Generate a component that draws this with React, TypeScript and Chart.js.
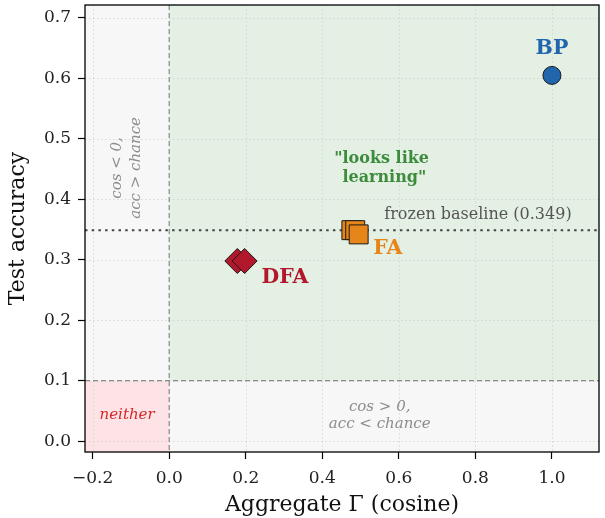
import React, { useEffect, useRef } from "react";
import { Chart, registerables } from "chart.js";

Chart.register(...registerables);

// ---- data ----
const BP_POINTS = [{ x: 1.0, y: 0.605 }];
const FA_POINTS = [
  { x: 0.476, y: 0.349 },
  { x: 0.486, y: 0.349 },
  { x: 0.495, y: 0.342 },
];
const DFA_POINTS = [
  { x: 0.178, y: 0.298 },
  { x: 0.197, y: 0.298 },
];
const X_TICKS = [-0.2, 0.0, 0.2, 0.4, 0.6, 0.8, 1.0];
const Y_TICKS = [0.0, 0.1, 0.2, 0.3, 0.4, 0.5, 0.6, 0.7];
const X_RANGE = [-0.22, 1.123];
const Y_RANGE = [-0.018, 0.7215];
const FROZEN_BASELINE = 0.349;
const CHANCE = 0.1;
const COS_ZERO = 0.0;

const SERIF = "'DejaVu Serif', serif";

const regionsPlugin = {
  id: "regions",
  beforeDatasetsDraw(chart: any) {
    const { ctx, chartArea: a, scales } = chart;
    const xs = scales.x, ys = scales.y;
    const x0 = xs.getPixelForValue(COS_ZERO);
    const y1 = ys.getPixelForValue(CHANCE);
    const yb = ys.getPixelForValue(FROZEN_BASELINE);
    ctx.save();
    ctx.fillStyle = "#f7f7f7";
    ctx.fillRect(a.left, a.top, a.right - a.left, a.bottom - a.top);
    ctx.fillStyle = "#e3f0e3";
    ctx.fillRect(x0, a.top, a.right - x0, y1 - a.top);
    ctx.fillStyle = "#fde3e5";
    ctx.fillRect(a.left, y1, x0 - a.left, a.bottom - y1);
    ctx.strokeStyle = "#cfcfcf";
    ctx.lineWidth = 0.8;
    ctx.setLineDash([1.5, 2.5]);
    for (const v of X_TICKS) {
      const p = Math.round(xs.getPixelForValue(v)) + 0.5;
      ctx.beginPath(); ctx.moveTo(p, a.top); ctx.lineTo(p, a.bottom); ctx.stroke();
    }
    for (const v of Y_TICKS) {
      const p = Math.round(ys.getPixelForValue(v)) + 0.5;
      ctx.beginPath(); ctx.moveTo(a.left, p); ctx.lineTo(a.right, p); ctx.stroke();
    }
    ctx.strokeStyle = "#8a8a8a";
    ctx.lineWidth = 1.2;
    ctx.setLineDash([5, 3]);
    ctx.beginPath(); ctx.moveTo(x0, a.top); ctx.lineTo(x0, a.bottom); ctx.stroke();
    ctx.beginPath(); ctx.moveTo(a.left, y1); ctx.lineTo(a.right, y1); ctx.stroke();
    ctx.strokeStyle = "#444444";
    ctx.lineWidth = 2;
    ctx.setLineDash([2.5, 4.2]);
    ctx.beginPath(); ctx.moveTo(a.left, yb); ctx.lineTo(a.right, yb); ctx.stroke();
    ctx.restore();
  },
  afterDatasetsDraw(chart: any) {
    const { ctx, chartArea: a, scales } = chart;
    const xs = scales.x, ys = scales.y;
    const px = (v: number) => xs.getPixelForValue(v);
    const py = (v: number) => ys.getPixelForValue(v);
    ctx.save();
    ctx.textBaseline = "middle";
    const text = (t: string, x: number, y: number, font: string, color: string, align: CanvasTextAlign) => {
      ctx.font = font; ctx.fillStyle = color; ctx.textAlign = align; ctx.fillText(t, x, y);
    };
    text("BP", px(1.0), py(0.649), `bold 20.5px ${SERIF}`, "#2166ac", "center");
    text("FA", px(0.533), py(0.318), `bold 20.5px ${SERIF}`, "#e6861a", "left");
    text("DFA", px(0.241), py(0.27), `bold 20.5px ${SERIF}`, "#b2182b", "left");
    text("\"looks like", px(0.555), py(0.467), `bold 16px ${SERIF}`, "#3d8b3d", "center");
    text(" learning\"", px(0.555), py(0.436), `bold 16px ${SERIF}`, "#3d8b3d", "center");
    text("frozen baseline (0.349)", px(0.562), py(0.375), `16px ${SERIF}`, "#555555", "left");
    text("neither", px(-0.11), py(0.043), `italic 15px ${SERIF}`, "#d62728", "center");
    text("cos > 0,", px(0.55), py(0.056), `italic 15px ${SERIF}`, "#8c8c8c", "center");
    text("acc < chance", px(0.55), py(0.028), `italic 15px ${SERIF}`, "#8c8c8c", "center");
    ctx.save();
    ctx.translate(px(-0.11), py(0.452));
    ctx.rotate(-Math.PI / 2);
    text("cos < 0,", 0, -9.5, `italic 15px ${SERIF}`, "#8c8c8c", "center");
    text("acc > chance", 0, 9.5, `italic 15px ${SERIF}`, "#8c8c8c", "center");
    ctx.restore();
    ctx.strokeStyle = "#000";
    ctx.lineWidth = 1.3;
    ctx.setLineDash([]);
    ctx.strokeRect(a.left, a.top, a.right - a.left, a.bottom - a.top);
    ctx.restore();
  },
};

const fmt = (v: number) => v.toFixed(1).replace("-", "\u2212");

export default function App() {
  const ref = useRef<HTMLCanvasElement>(null);
  useEffect(() => {
    document.body.style.margin = "0";
    const chart = new Chart(ref.current!, {
      type: "scatter",
      data: {
        datasets: [
          {
            label: "DFA",
            data: DFA_POINTS,
            pointStyle: "rectRot",
            pointRadius: 12.5,
            backgroundColor: "#b2182b",
            borderColor: "#1a1a1a",
            borderWidth: 1,
          },
          {
            label: "FA",
            data: FA_POINTS,
            pointStyle: "rect",
            pointRadius: 13.4,
            backgroundColor: "#e6861a",
            borderColor: "#1a1a1a",
            borderWidth: 1,
          },
          {
            label: "BP",
            data: BP_POINTS,
            pointStyle: "circle",
            pointRadius: 9,
            backgroundColor: "#2166ac",
            borderColor: "#1a1a1a",
            borderWidth: 1,
          },
        ],
      },
      options: {
        responsive: false,
        animation: false,
        devicePixelRatio: 1,
        layout: { autoPadding: false, padding: { left: 0, right: 6, top: 5, bottom: 0 } },
        plugins: { legend: { display: false }, tooltip: { enabled: false } },
        scales: {
          x: {
            type: "linear",
            min: X_RANGE[0],
            max: X_RANGE[1],
            afterBuildTicks: (s: any) => { s.ticks = X_TICKS.map((v) => ({ value: v })); },
            afterFit: (s: any) => { s.height = 66; s.paddingLeft = 0; s.paddingRight = 0; },
            ticks: { callback: (v: any) => fmt(Number(v)), font: { family: SERIF, size: 17 }, color: "#222", padding: 9, maxRotation: 0 },
            grid: { drawOnChartArea: false, tickLength: 7, tickColor: "#000", tickWidth: 1.2 },
            border: { display: false },
            title: { display: true, text: "Aggregate \u0393 (cosine)", font: { family: SERIF, size: 22 }, color: "#111", padding: { top: 2, bottom: 0 } },
          },
          y: {
            type: "linear",
            min: Y_RANGE[0],
            max: Y_RANGE[1],
            afterBuildTicks: (s: any) => { s.ticks = Y_TICKS.map((v) => ({ value: v })); },
            afterFit: (s: any) => { s.width = 85; s.paddingTop = 0; s.paddingBottom = 0; },
            ticks: { callback: (v: any) => fmt(Number(v)), font: { family: SERIF, size: 17 }, color: "#222", padding: 7 },
            grid: { drawOnChartArea: false, tickLength: 7, tickColor: "#000", tickWidth: 1.2 },
            border: { display: false },
            title: { display: true, text: "Test accuracy", font: { family: SERIF, size: 22 }, color: "#111", padding: { top: 5, bottom: 4 } },
          },
        },
      },
      plugins: [regionsPlugin],
    } as any);
    return () => chart.destroy();
  }, []);
  return (
    <div style={{ position: "absolute", left: 0, top: 0, width: 605, height: 518, background: "#fff" }}>
      <canvas ref={ref} width={605} height={518} />
    </div>
  );
}
